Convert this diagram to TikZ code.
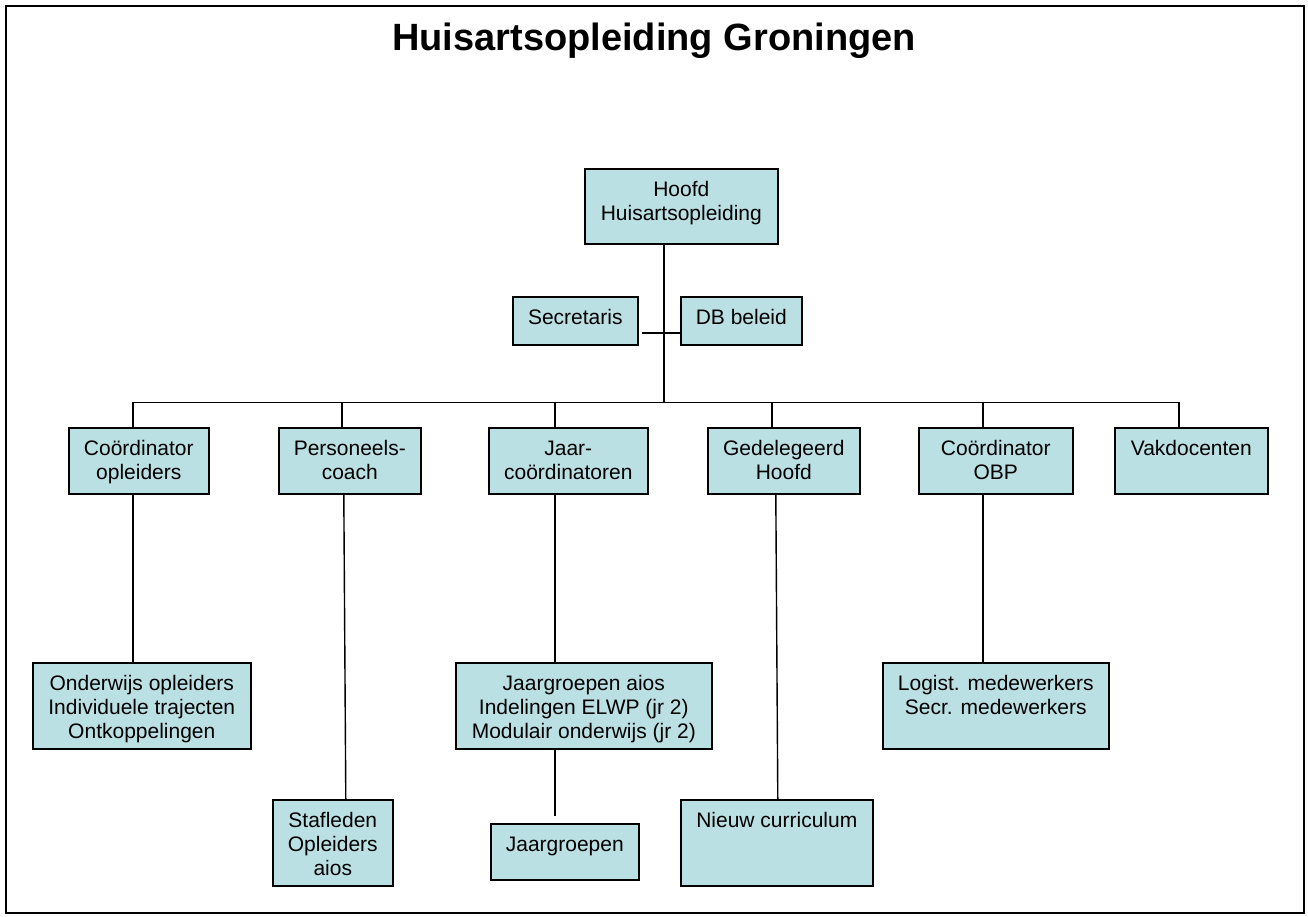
\documentclass[tikz,border=0pt]{standalone}
\usepackage{fontspec}
\setmainfont{Liberation Sans}
\usetikzlibrary{positioning}
\definecolor{OrgFill}{HTML}{BBE0E3}

\begin{document}
\begin{tikzpicture}[
    x=1pt, y=-1pt,
    % Box styles
    orgbox/.style={
        rectangle,
        draw=black,
        fill=OrgFill,
        line width=1.6pt,
        anchor=north west,
        inner sep=0pt
    },
    boxtext/.style={
        anchor=north,
        yshift=-11.7pt,
        inner sep=0pt,
        align=center,
        font=\fontsize{21}{24}\selectfont
    },
    % Connector line style
    conn/.style={
        draw=black,
        line width=1.4pt,
        line cap=butt
    }
]
    \useasboundingbox (0,0) rectangle (1308,916);
    \draw[line width=2pt] (6,6) rectangle (1304,913);

    % --- Title ---
    \node[anchor=base, font=\fontsize{38}{44}\selectfont\bfseries] (title) at (654,50) {Huisartsopleiding Groningen};

    % --- Top ---
    \node[orgbox, minimum width=193, minimum height=75,
          label={[boxtext]north:\strut Hoofd\\Huisartsopleiding}] (hoofd) at (584,168) {};
    \node[orgbox, minimum width=125, minimum height=48,
          label={[boxtext]north:\strut Secretaris}] (secr) at (512,296) {};
    \node[orgbox, minimum width=121, minimum height=48,
          label={[boxtext]north:\strut DB beleid}] (db) at (680,296) {};

    % --- Second row ---
    \node[orgbox, minimum width=140, minimum height=66,
          label={[boxtext]north:\strut Coördinator\\opleiders}] (coord) at (68,427) {};
    \node[orgbox, minimum width=142, minimum height=66,
          label={[boxtext]north:\strut Personeels-\\coach}] (pers) at (278,427) {};
    \node[orgbox, minimum width=159, minimum height=66,
          label={[boxtext]north:\strut Jaar-\\coördinatoren}] (jaar) at (488,427) {};
    \node[orgbox, minimum width=152, minimum height=66,
          label={[boxtext]north:\strut Gedelegeerd\\Hoofd}] (gedel) at (707,427) {};
    \node[orgbox, minimum width=154, minimum height=66,
          label={[boxtext]north:\strut Coördinator\\OBP}] (obp) at (918,427) {};
    \node[orgbox, minimum width=153, minimum height=66,
          label={[boxtext]north:\strut Vakdocenten}] (vak) at (1114,427) {};

    % --- Third row ---
    \node[orgbox, minimum width=218, minimum height=86,
          label={[boxtext]north:\strut Onderwijs opleiders\\Individuele trajecten\\Ontkoppelingen}] (onderw) at (32,662) {};
    \node[orgbox, minimum width=256, minimum height=86,
          label={[boxtext]north:\strut Jaargroepen aios\\Indelingen ELWP (jr 2)\\Modulair onderwijs (jr 2)}] (jaios) at (455,662) {};
    \node[orgbox, minimum width=226, minimum height=86,
          label={[boxtext]north:\strut Logist. medewerkers\\Secr. medewerkers}] (logist) at (882,662) {};

    % --- Bottom row ---
    \node[orgbox, minimum width=120, minimum height=86,
          label={[boxtext]north:\strut Stafleden\\Opleiders\\aios}] (staf) at (272,799) {};
    \node[orgbox, minimum width=148, minimum height=56,
          label={[boxtext]north:\strut Jaargroepen}] (jgroep) at (490,823) {};
    \node[orgbox, minimum width=192, minimum height=86,
          label={[boxtext]north:\strut Nieuw curriculum}] (nieuw) at (680,799) {};

    % --- Connectors ---
    \draw[conn] ([xshift=-17.5pt]hoofd.south) -- ++(0,158) coordinate (bus);
    \draw[conn] ([xshift=3pt,yshift=-12pt]secr.east) -- ([yshift=-12pt]db.west);
    \draw[conn] ([xshift=-6pt]coord.north) |- (bus) -| ([xshift=-12.5pt]vak.north);
    \foreach \n/\s in {pers/-8, jaar/-13.5, gedel/-12, obp/-13}
        \draw[conn] ([xshift=\s pt]\n.north) -- ([xshift=\s pt]\n.north |- bus);

    \draw[conn] ([xshift=-6pt]coord.south) -- ([xshift=-6pt]coord.south |- onderw.north);
    \draw[conn] ([xshift=-6pt]pers.south) -- ([xshift=13pt]staf.north);
    \draw[conn] ([xshift=-13.5pt]jaar.south) -- ([xshift=-13.5pt]jaar.south |- jaios.north);
    \draw[conn] ([xshift=-29pt]jaios.south) -- ([xshift=-10pt,yshift=7pt]jgroep.north);
    \draw[conn] ([xshift=-8pt]gedel.south) -- ([xshift=1pt]nieuw.north);
    \draw[conn] ([xshift=-13pt]obp.south) -- ([xshift=-13pt]obp.south |- logist.north);

\end{tikzpicture}
\end{document}
